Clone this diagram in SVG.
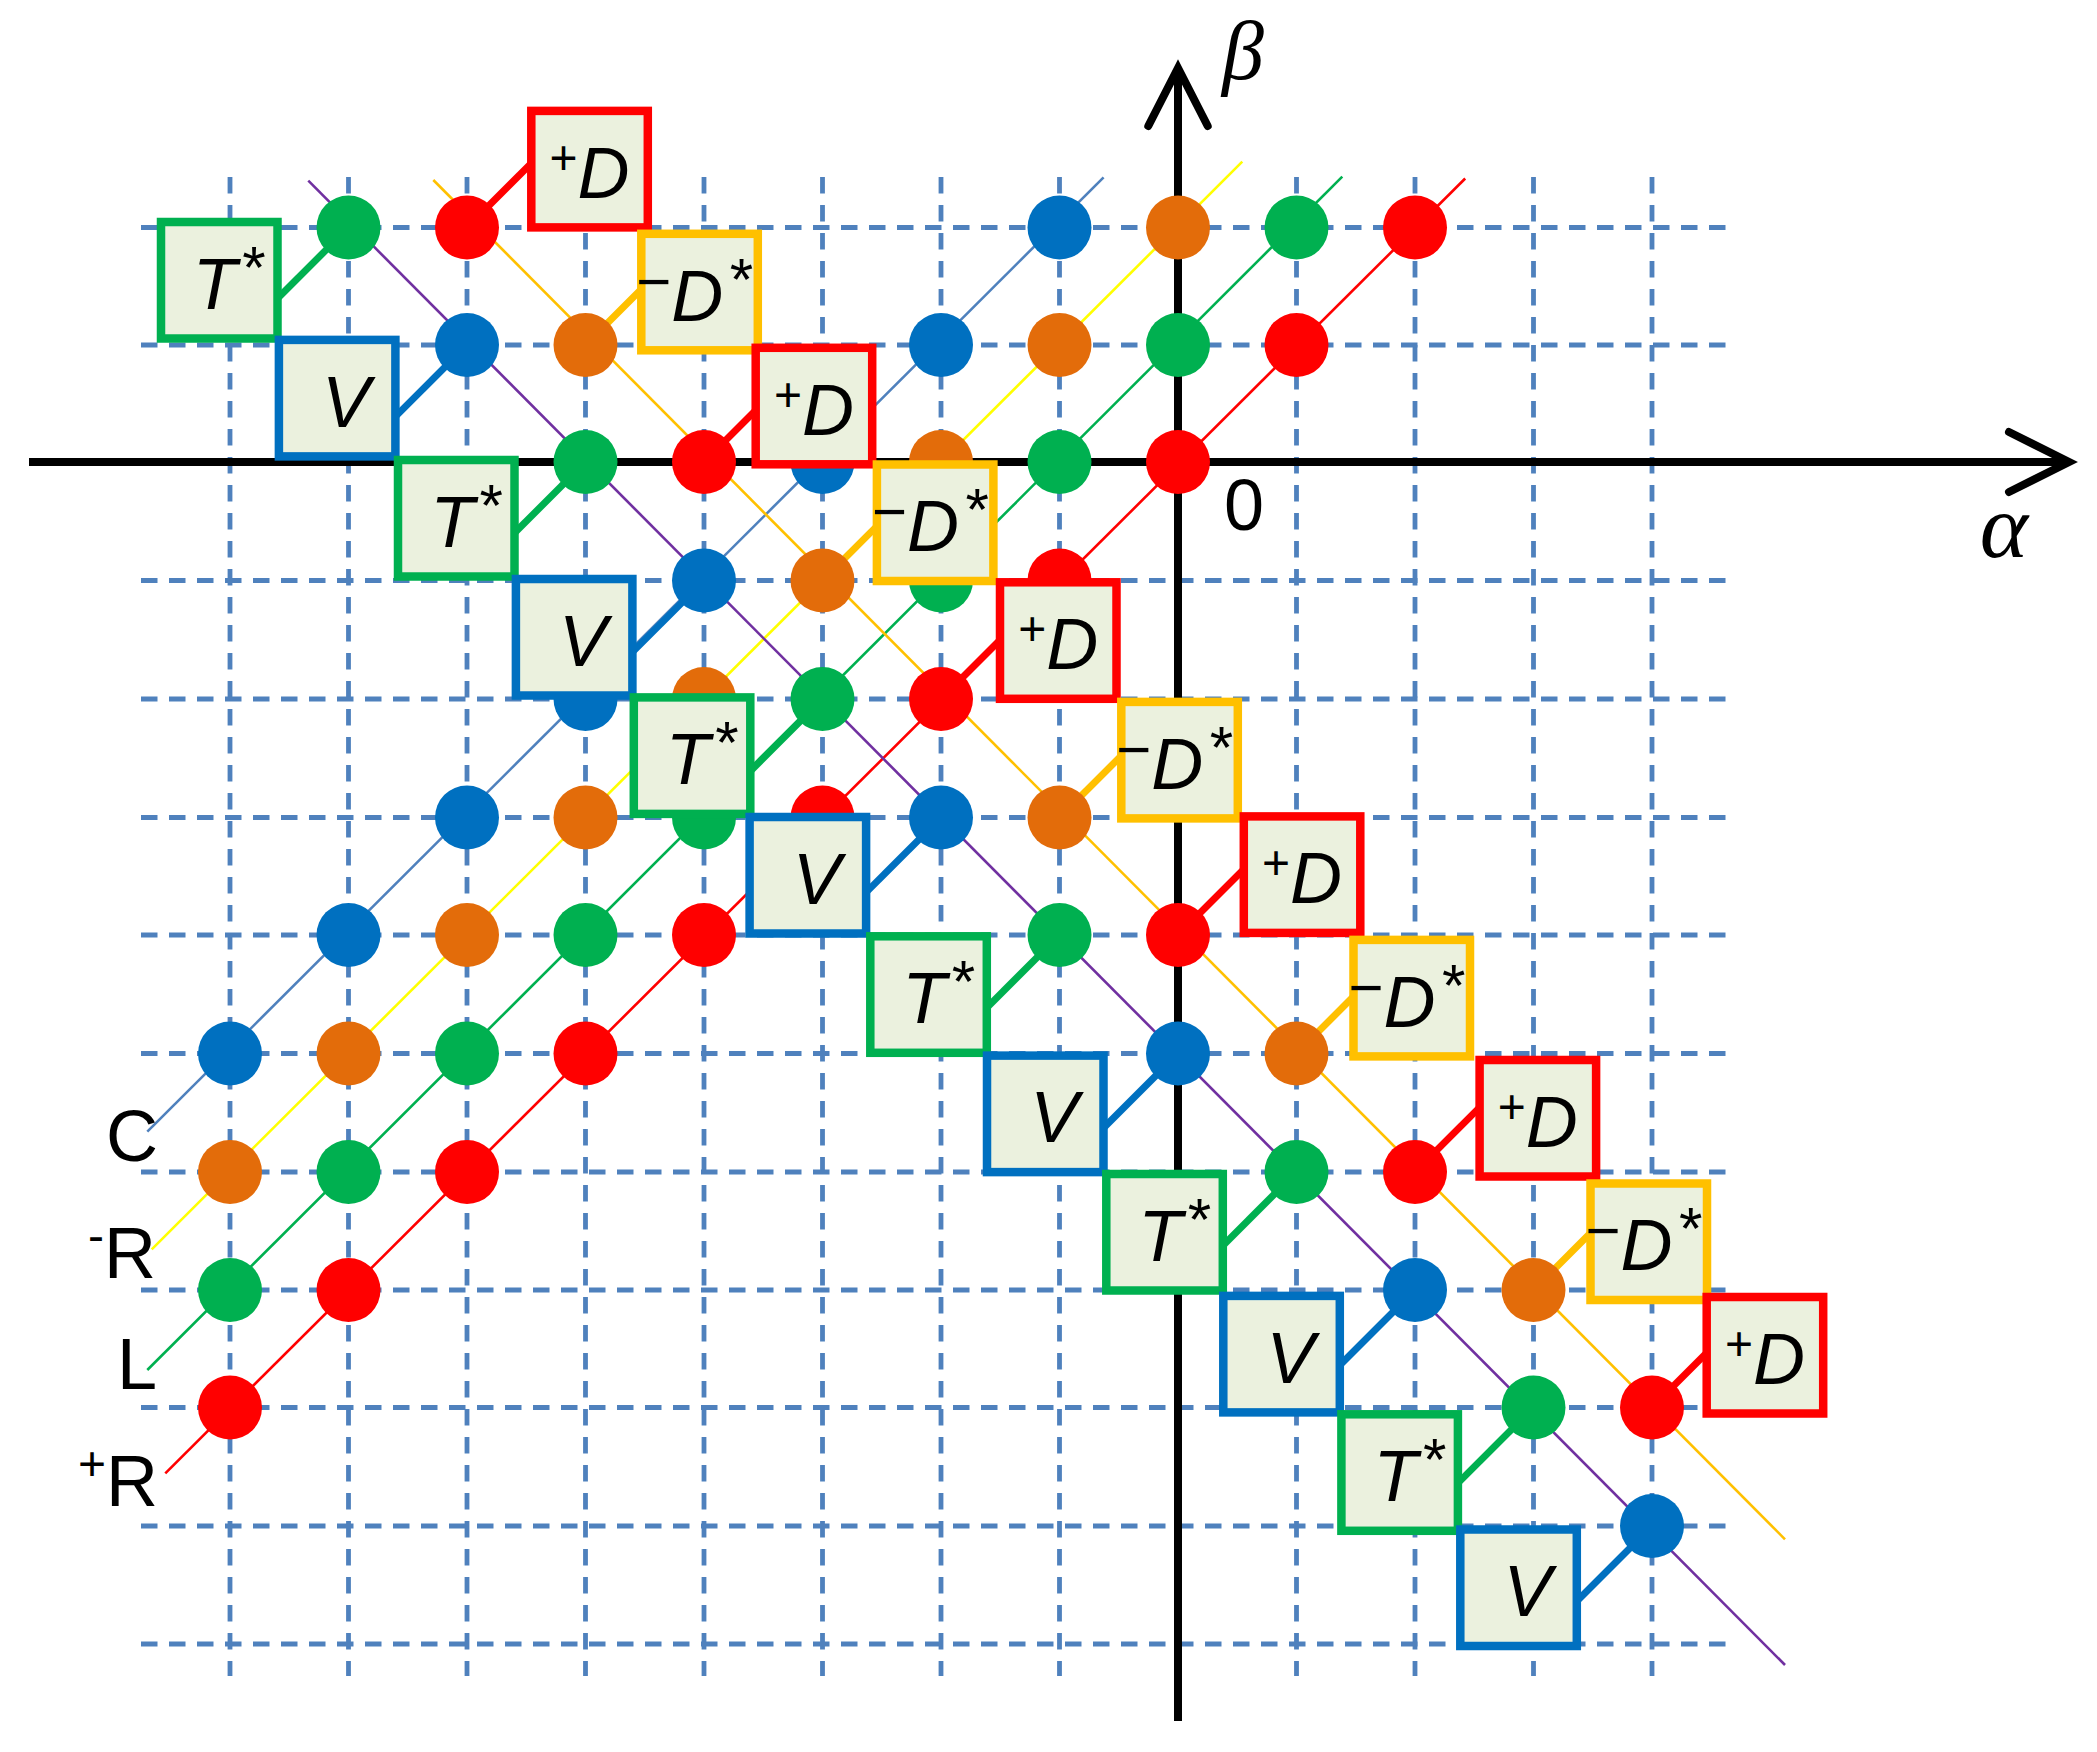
<svg xmlns="http://www.w3.org/2000/svg" width="2097" height="1752" viewBox="0 0 2097 1752">
<style>
.grid{stroke:#4F81BD;stroke-width:4.8;stroke-dasharray:16.5 11.5;fill:none}
.ax{stroke:#000;stroke-width:8;fill:none}
.ah{stroke:#000;stroke-width:8;fill:none;stroke-linecap:round;stroke-linejoin:miter}
.ln{stroke-width:2.6;fill:none}
.cn{stroke-width:7;fill:none}
.db{fill:#0070C0}.dg{fill:#00B050}.dr{fill:#FF0000}.do{fill:#E36C0A}
.bx{fill:#EBF1DE;stroke-width:8.5;stroke-linejoin:miter}
.sg{stroke:#00B050}.sb{stroke:#0070C0}.sr{stroke:#FF0000}.sy{stroke:#FFC000}
.t{font-family:"Liberation Sans",Arial,sans-serif;font-size:72px;font-style:italic;fill:#000;text-anchor:middle}
.sp{font-size:48px;font-style:normal}
.st{font-size:60px}
.mn{font-size:60px;font-style:normal}
.lb{font-family:"Liberation Sans",Arial,sans-serif;font-size:72px;fill:#000}
.gr{font-family:"Liberation Serif","Times New Roman",serif;font-style:italic;fill:#000;text-anchor:middle}
</style>
<g id="grid" class="grid">
<path d="M230 177V1676M348.5 177V1676M467 177V1676M585.5 177V1676M704 177V1676M822.5 177V1676M941 177V1676M1059.5 177V1676M1296.5 177V1676M1415 177V1676M1533.5 177V1676M1652 177V1676"/>
<path d="M141 227.5H1730M141 345H1730M141 580.5H1730M141 699H1730M141 817.5H1730M141 935H1730M141 1053.5H1730M141 1172H1730M141 1290H1730M141 1407.5H1730M141 1526H1730M141 1644H1730"/>
</g>
<g id="axes">
<line class="ax" x1="29" y1="462" x2="2064" y2="462"/>
<polyline class="ah" points="2009,432 2069,462 2009,492"/>
<line class="ax" x1="1178" y1="1721" x2="1178" y2="74"/>
<polyline class="ah" points="1148.3,126 1178,68 1207.7,126"/>
<text class="gr" x="1243" y="79" font-size="84">β</text>
<text class="gr" x="2004" y="557" font-size="92">α</text>
<text class="lb" x="1244" y="530" text-anchor="middle">0</text>
</g>
<g id="connectors">
<line class="ln" stroke="#4F81BD" x1="147.3" y1="1131.7" x2="1103.6" y2="177.3"/>
<line class="ln" stroke="#FFFF00" x1="151.7" y1="1249.3" x2="1242.3" y2="161.7"/>
<line class="ln" stroke="#00B050" x1="147.3" y1="1370" x2="1342.3" y2="176.7"/>
<line class="ln" stroke="#FF0000" x1="165.3" y1="1473.3" x2="1465.2" y2="178.5"/>
<line class="ln" stroke="#7030A0" x1="308.3" y1="180.7" x2="1785" y2="1665"/>
<line class="ln" stroke="#FFC000" x1="433.3" y1="180" x2="1785" y2="1539.3"/>
<g class="cn sg">
<line x1="348.5" y1="227.5" x2="277.5" y2="298.5"/>
<line x1="585.5" y1="462" x2="514.5" y2="533"/>
<line x1="822.5" y1="699" x2="750.3" y2="771.2"/>
<line x1="1059.5" y1="935" x2="986.8" y2="1007.7"/>
<line x1="1296.5" y1="1172" x2="1222.8" y2="1245.7"/>
<line x1="1533.5" y1="1407.5" x2="1457.9" y2="1483.1"/>
</g>
<g class="cn sb">
<line x1="467" y1="345" x2="395.4" y2="416.6"/>
<line x1="704" y1="580.5" x2="632.4" y2="652.1"/>
<line x1="941" y1="817.5" x2="866.1" y2="892.4"/>
<line x1="1178" y1="1053.5" x2="1103.5" y2="1128"/>
<line x1="1415" y1="1290" x2="1339.8" y2="1365.2"/>
<line x1="1652" y1="1526" x2="1576.8" y2="1601.2"/>
</g>
<g class="cn sr">
<line x1="467" y1="227.5" x2="531.3" y2="163.2"/>
<line x1="704" y1="462" x2="755.7" y2="410.3"/>
<line x1="941" y1="699" x2="1000" y2="640"/>
<line x1="1178" y1="935" x2="1243.8" y2="869.2"/>
<line x1="1415" y1="1172" x2="1479.6" y2="1107.4"/>
<line x1="1652" y1="1407.5" x2="1706.7" y2="1352.8"/>
</g>
<g class="cn sy">
<line x1="585.5" y1="345" x2="641.3" y2="289.2"/>
<line x1="822.5" y1="580.5" x2="876.9" y2="526.1"/>
<line x1="1059.5" y1="817.5" x2="1121.3" y2="755.7"/>
<line x1="1296.5" y1="1053.5" x2="1353.5" y2="996.5"/>
<line x1="1533.5" y1="1290" x2="1590.5" y2="1233"/>
</g>
</g>
<g id="dots">
<g id="b-8-5"><circle class="db" cx="230" cy="1053.5" r="32"/></g>
<g id="b-7-4"><circle class="db" cx="348.5" cy="935" r="32"/></g>
<g id="b-6-3"><circle class="db" cx="467" cy="817.5" r="32"/></g>
<g id="b-5-2"><circle class="db" cx="585.5" cy="699" r="32"/></g>
<g id="b-4-1"><circle class="db" cx="704" cy="580.5" r="32"/></g>
<g id="b-3_0"><circle class="db" cx="822.5" cy="462" r="32"/></g>
<g id="b-2_1"><circle class="db" cx="941" cy="345" r="32"/></g>
<g id="b-1_2"><circle class="db" cx="1059.5" cy="227.5" r="32"/></g>
<g id="b-6_1"><circle class="db" cx="467" cy="345" r="32"/></g>
<g id="b-2-3"><circle class="db" cx="941" cy="817.5" r="32"/></g>
<g id="b0-5"><circle class="db" cx="1178" cy="1053.5" r="32"/></g>
<g id="b2-7"><circle class="db" cx="1415" cy="1290" r="32"/></g>
<g id="b4-9"><circle class="db" cx="1652" cy="1526" r="32"/></g>
<g id="o-8-6"><circle class="do" cx="230" cy="1172" r="32"/></g>
<g id="o-7-5"><circle class="do" cx="348.5" cy="1053.5" r="32"/></g>
<g id="o-6-4"><circle class="do" cx="467" cy="935" r="32"/></g>
<g id="o-5-3"><circle class="do" cx="585.5" cy="817.5" r="32"/></g>
<g id="o-4-2"><circle class="do" cx="704" cy="699" r="32"/></g>
<g id="o-3-1"><circle class="do" cx="822.5" cy="580.5" r="32"/></g>
<g id="o-2_0"><circle class="do" cx="941" cy="462" r="32"/></g>
<g id="o-1_1"><circle class="do" cx="1059.5" cy="345" r="32"/></g>
<g id="o0_2"><circle class="do" cx="1178" cy="227.5" r="32"/></g>
<g id="o-5_1"><circle class="do" cx="585.5" cy="345" r="32"/></g>
<g id="o-1-3"><circle class="do" cx="1059.5" cy="817.5" r="32"/></g>
<g id="o1-5"><circle class="do" cx="1296.5" cy="1053.5" r="32"/></g>
<g id="o3-7"><circle class="do" cx="1533.5" cy="1290" r="32"/></g>
<g id="g-8-7"><circle class="dg" cx="230" cy="1290" r="32"/></g>
<g id="g-7-6"><circle class="dg" cx="348.5" cy="1172" r="32"/></g>
<g id="g-6-5"><circle class="dg" cx="467" cy="1053.5" r="32"/></g>
<g id="g-5-4"><circle class="dg" cx="585.5" cy="935" r="32"/></g>
<g id="g-4-3"><circle class="dg" cx="704" cy="817.5" r="32"/></g>
<g id="g-3-2"><circle class="dg" cx="822.5" cy="699" r="32"/></g>
<g id="g-2-1"><circle class="dg" cx="941" cy="580.5" r="32"/></g>
<g id="g-1_0"><circle class="dg" cx="1059.5" cy="462" r="32"/></g>
<g id="g0_1"><circle class="dg" cx="1178" cy="345" r="32"/></g>
<g id="g1_2"><circle class="dg" cx="1296.5" cy="227.5" r="32"/></g>
<g id="g-7_2"><circle class="dg" cx="348.5" cy="227.5" r="32"/></g>
<g id="g-5_0"><circle class="dg" cx="585.5" cy="462" r="32"/></g>
<g id="g-1-4"><circle class="dg" cx="1059.5" cy="935" r="32"/></g>
<g id="g1-6"><circle class="dg" cx="1296.5" cy="1172" r="32"/></g>
<g id="g3-8"><circle class="dg" cx="1533.5" cy="1407.5" r="32"/></g>
<g id="r-8-8"><circle class="dr" cx="230" cy="1407.5" r="32"/></g>
<g id="r-7-7"><circle class="dr" cx="348.5" cy="1290" r="32"/></g>
<g id="r-6-6"><circle class="dr" cx="467" cy="1172" r="32"/></g>
<g id="r-5-5"><circle class="dr" cx="585.5" cy="1053.5" r="32"/></g>
<g id="r-4-4"><circle class="dr" cx="704" cy="935" r="32"/></g>
<g id="r-3-3"><circle class="dr" cx="822.5" cy="817.5" r="32"/></g>
<g id="r-2-2"><circle class="dr" cx="941" cy="699" r="32"/></g>
<g id="r-1-1"><circle class="dr" cx="1059.5" cy="580.5" r="32"/></g>
<g id="r0_0"><circle class="dr" cx="1178" cy="462" r="32"/></g>
<g id="r1_1"><circle class="dr" cx="1296.5" cy="345" r="32"/></g>
<g id="r2_2"><circle class="dr" cx="1415" cy="227.5" r="32"/></g>
<g id="r-6_2"><circle class="dr" cx="467" cy="227.5" r="32"/></g>
<g id="r-4_0"><circle class="dr" cx="704" cy="462" r="32"/></g>
<g id="r0-4"><circle class="dr" cx="1178" cy="935" r="32"/></g>
<g id="r2-6"><circle class="dr" cx="1415" cy="1172" r="32"/></g>
<g id="r4-8"><circle class="dr" cx="1652" cy="1407.5" r="32"/></g>
</g>
<g id="boxT1"><rect class="bx sg" x="161" y="222" width="116.5" height="116.5"/><text class="t" x="228" y="308.8"><tspan>T</tspan><tspan class="st" dx="3" dy="-21">*</tspan></text></g>
<g id="boxV2"><rect class="bx sb" x="278.9" y="339.9" width="116.5" height="116.5"/><text class="t" x="346" y="426.6">V</text></g>
<g id="boxT3"><rect class="bx sg" x="398" y="460" width="116.5" height="116.5"/><text class="t" x="465.3" y="546.7"><tspan>T</tspan><tspan class="st" dx="3" dy="-21">*</tspan></text></g>
<g id="boxV4"><rect class="bx sb" x="515.9" y="579" width="116.5" height="116.5"/><text class="t" x="583.1" y="665.7">V</text></g>
<g id="boxT5"><rect class="bx sg" x="633.8" y="697.4" width="116.5" height="116.5"/><text class="t" x="701" y="784.1"><tspan>T</tspan><tspan class="st" dx="3" dy="-21">*</tspan></text></g>
<g id="boxV6"><rect class="bx sb" x="749.6" y="817" width="116.5" height="116.5"/><text class="t" x="816.8" y="903.7">V</text></g>
<g id="boxT7"><rect class="bx sg" x="870.3" y="936.3" width="116.5" height="116.5"/><text class="t" x="937.5" y="1023"><tspan>T</tspan><tspan class="st" dx="3" dy="-21">*</tspan></text></g>
<g id="boxV8"><rect class="bx sb" x="987" y="1055.6" width="116.5" height="116.5"/><text class="t" x="1054.3" y="1142.3">V</text></g>
<g id="boxT9"><rect class="bx sg" x="1106.3" y="1174" width="116.5" height="116.5"/><text class="t" x="1173.5" y="1260.8"><tspan>T</tspan><tspan class="st" dx="3" dy="-21">*</tspan></text></g>
<g id="boxV10"><rect class="bx sb" x="1223.3" y="1295.9" width="116.5" height="116.5"/><text class="t" x="1290.5" y="1382.6">V</text></g>
<g id="boxT11"><rect class="bx sg" x="1341.4" y="1414.3" width="116.5" height="116.5"/><text class="t" x="1408.6" y="1501"><tspan>T</tspan><tspan class="st" dx="3" dy="-21">*</tspan></text></g>
<g id="boxV12"><rect class="bx sb" x="1460.3" y="1529.5" width="116.5" height="116.5"/><text class="t" x="1527.5" y="1616.2">V</text></g>
<g id="boxD1"><rect class="bx sr" x="531.3" y="110.9" width="116.5" height="116.5"/><text class="t" x="589.5" y="197.6"><tspan class="sp" dy="-24">+</tspan><tspan dy="24">D</tspan></text></g>
<g id="boxM2"><rect class="bx sy" x="641.3" y="233.8" width="116.5" height="116.5"/><text class="t" x="693.5" y="320.5"><tspan class="mn" dy="-19">−</tspan><tspan dy="19">D</tspan><tspan class="st" dx="4" dy="-21">*</tspan></text></g>
<g id="boxD3"><rect class="bx sr" x="755.7" y="347.8" width="116.5" height="116.5"/><text class="t" x="813.9" y="434.5"><tspan class="sp" dy="-24">+</tspan><tspan dy="24">D</tspan></text></g>
<g id="boxM4"><rect class="bx sy" x="876.9" y="464.5" width="116.5" height="116.5"/><text class="t" x="929.1" y="551.2"><tspan class="mn" dy="-19">−</tspan><tspan dy="19">D</tspan><tspan class="st" dx="4" dy="-21">*</tspan></text></g>
<g id="boxD5"><rect class="bx sr" x="1000" y="582.3" width="116.5" height="116.5"/><text class="t" x="1058.3" y="669"><tspan class="sp" dy="-24">+</tspan><tspan dy="24">D</tspan></text></g>
<g id="boxM6"><rect class="bx sy" x="1121.3" y="701.9" width="116.5" height="116.5"/><text class="t" x="1173.5" y="788.6"><tspan class="mn" dy="-19">−</tspan><tspan dy="19">D</tspan><tspan class="st" dx="4" dy="-21">*</tspan></text></g>
<g id="boxD7"><rect class="bx sr" x="1243.8" y="816.4" width="116.5" height="116.5"/><text class="t" x="1302" y="903.1"><tspan class="sp" dy="-24">+</tspan><tspan dy="24">D</tspan></text></g>
<g id="boxM8"><rect class="bx sy" x="1353.5" y="939.9" width="116.5" height="116.5"/><text class="t" x="1405.7" y="1026.6"><tspan class="mn" dy="-19">−</tspan><tspan dy="19">D</tspan><tspan class="st" dx="4" dy="-21">*</tspan></text></g>
<g id="boxD9"><rect class="bx sr" x="1479.6" y="1060" width="116.5" height="116.5"/><text class="t" x="1537.8" y="1146.7"><tspan class="sp" dy="-24">+</tspan><tspan dy="24">D</tspan></text></g>
<g id="boxM10"><rect class="bx sy" x="1590.5" y="1183.5" width="116.5" height="116.5"/><text class="t" x="1642.7" y="1270.2"><tspan class="mn" dy="-19">−</tspan><tspan dy="19">D</tspan><tspan class="st" dx="4" dy="-21">*</tspan></text></g>
<g id="boxD11"><rect class="bx sr" x="1706.7" y="1297" width="116.5" height="116.5"/><text class="t" x="1764.9" y="1383.7"><tspan class="sp" dy="-24">+</tspan><tspan dy="24">D</tspan></text></g>
<g id="labels">
<text class="lb" x="106" y="1161">C</text>
<text class="lb" x="88" y="1278"><tspan font-size="48" dy="-26.5">-</tspan><tspan dy="26.5">R</tspan></text>
<text class="lb" x="117" y="1389">L</text>
<text class="lb" x="78" y="1506"><tspan font-size="48" dy="-25.6">+</tspan><tspan dy="25.6">R</tspan></text>
</g>
</svg>
